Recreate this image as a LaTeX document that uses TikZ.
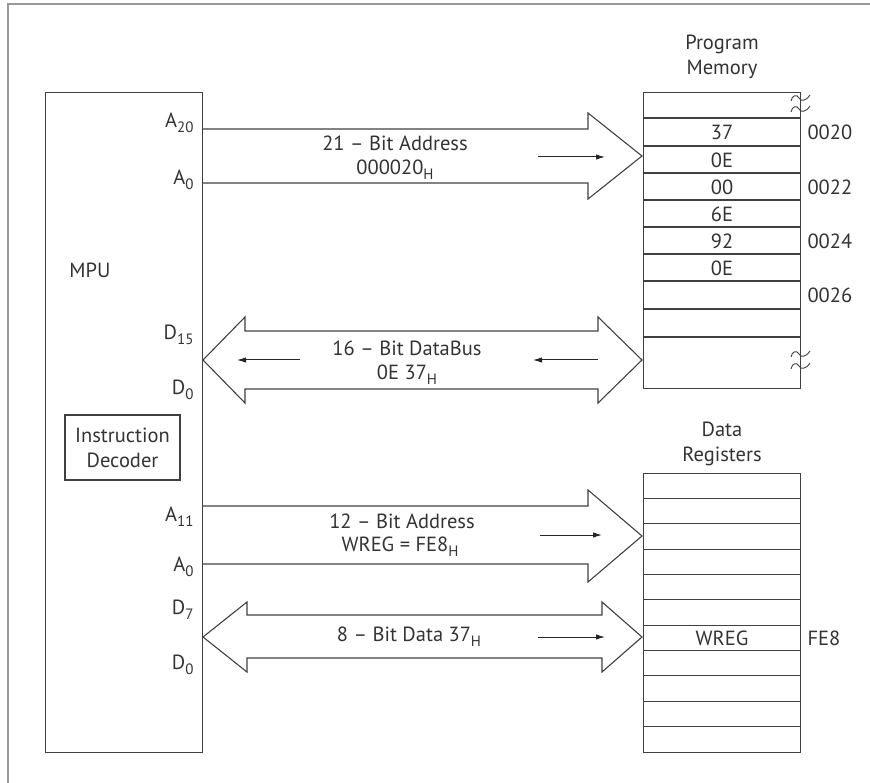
\documentclass[tikz,border=0pt]{standalone}
\usepackage{fontspec}
\setmainfont{PT Sans}
\usetikzlibrary{arrows.meta}
\newcommand\lowsub[1]{\raisebox{-.45ex}{\fontsize{15}{15}\selectfont#1}}

\begin{document}
\begin{tikzpicture}[
  x=1pt,y=-1pt,
  font=\fontsize{20.5}{25}\selectfont,
  text=black!80,
  line width=1.1pt,
  >={Latex[length=9pt,width=5.5pt]},
  ink/.style={draw=black!75,inner sep=0pt},
  bus/.style={draw=black!75,line join=miter},
  flow/.style={->,draw=black!85,line width=1pt},
  pin/.style={anchor=east,inner sep=0pt},
  cell/.style={inner sep=0pt},
  addr/.style={anchor=west,inner sep=0pt},
  brk/.style={draw=black!75,line width=.9pt}
]
\useasboundingbox (0,0) rectangle (870,783);

% frame
\draw[black!40,line width=1.5pt] (8,783) -- (8,4) -- (870,4);

% MPU
\node[ink,minimum width=157pt,minimum height=660pt,anchor=north west] (mpu) at (45,92) {};
\node (mpulbl) at (90,270) {MPU};
\node[ink,minimum width=115pt,minimum height=65pt,align=center] (decoder) at (122.5,447.5) {Instruction\\Decoder};

\node[pin] (a20) at (194,123) {A\lowsub{20}};
\node[pin] (a0p) at (194,180) {A\lowsub{0}};
\node[pin] (d15) at (194,335) {D\lowsub{15}};
\node[pin] (d0p) at (194,390) {D\lowsub{0}};
\node[pin] (a11) at (194,517) {A\lowsub{11}};
\node[pin] (a0d) at (194,567) {A\lowsub{0}};
\node[pin] (d7)  at (194,610) {D\lowsub{7}};
\node[pin] (d0d) at (194,665) {D\lowsub{0}};

% program memory
\node[align=center] (pmtitle) at (722,57) {Program\\Memory};
\node[ink,minimum width=157pt,minimum height=296pt,anchor=north west] (progmem) at (643,92) {};
\foreach \y in {118,146,173,200,227,254,281,309,337}
  \draw[black!75] (643,\y) -- (800,\y);
\foreach \y/\v in {132/37,160/0E,187/00,214/6E,241/92,268/0E}
  \node[cell] at (722,\y) {\v};
\foreach \y/\a in {132/0020,187/0022,241/0024,295/0026}
  \node[addr] at (807,\y) {\a};
\foreach \y in {98,109,354,366}
  \draw[brk] (791,\y+3) .. controls (792,\y-3) and (797,\y-4) .. (799,\y)
    .. controls (801,\y+4) and (806,\y+3) .. (810,\y-3);

% data registers
\node[align=center] (drtitle) at (722,444) {Data\\Registers};
\node[ink,minimum width=157pt,minimum height=279pt,anchor=north west] (datareg) at (643,473) {};
\foreach \i in {1,...,10}
  \draw[black!75] (643,473+\i*25.36) -- (800,473+\i*25.36);
\node[cell] (wreg) at (722,638.5) {WREG};
\node[addr] (fe8) at (807,638.5) {FE8};

% 21-bit address bus
\draw[bus] (202,129) -- (588,129) -- (588,113) -- (642,156) -- (588,199) -- (588,183) -- (202,183);
\node (pabus) at (395,143) {21 -- Bit Address};
\node (paval) at (395,170) {000020\lowsub{H}};
\draw[flow] (538,157) -- (605,157);

% 16-bit data bus
\draw[bus] (203,360) -- (245,317) -- (245,331) -- (598,331) -- (598,317) -- (642,360)
  -- (598,403) -- (598,389) -- (245,389) -- (245,403) -- cycle;
\node (pdbus) at (407,348) {16 -- Bit DataBus};
\node (pdval) at (407,375) {0E 37\lowsub{H}};
\draw[flow] (300,360) -- (237,360);
\draw[flow] (598,360) -- (533,360);

% 12-bit address bus
\draw[bus] (202,506) -- (588,506) -- (588,490) -- (642,536) -- (588,582) -- (588,564) -- (202,564);
\node (dabus) at (402,521) {12 -- Bit Address};
\node (daval) at (400,547) {WREG = FE8\lowsub{H}};
\draw[flow] (540,535) -- (602,535);

% 8-bit data bus
\draw[bus] (203,637) -- (247,602) -- (247,615) -- (602,615) -- (602,602) -- (642,637)
  -- (602,672) -- (602,658) -- (247,658) -- (247,672) -- cycle;
\node (ddbus) at (409,637) {8 -- Bit Data 37\lowsub{H}};
\draw[flow] (538,637) -- (605,637);
\end{tikzpicture}
\end{document}
